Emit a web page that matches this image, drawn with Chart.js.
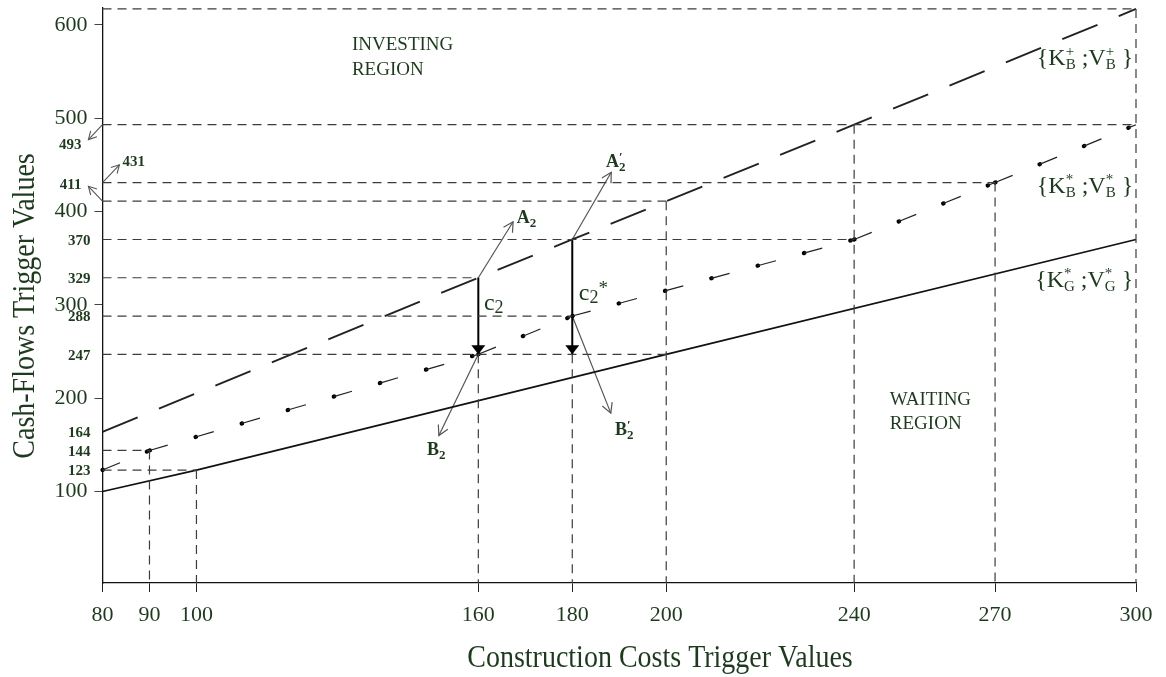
<!DOCTYPE html>
<html>
<head>
<meta charset="utf-8">
<script src="https://cdn.jsdelivr.net/npm/chart.js@4.4.1/dist/chart.umd.min.js"></script>
<style>
html,body{margin:0;padding:0;background:#fff;}
#wrap{width:1166px;height:677px;position:relative;}
</style>
</head>
<body>
<div id="wrap"><canvas id="c"></canvas></div>
<script>
// ---------- data ----------
const xTicks = [80, 90, 100, 160, 180, 200, 240, 270, 300];
const yTicks = [100, 200, 300, 400, 500, 600];
const yMarks = [123, 144, 164, 247, 288, 329, 370];   // bold values beside the axis
const yMarksArrowed = [493, 431, 411];                // bold values with a pointer

// {K_B+ ; V_B+}  (long dashes)
const kBplus = [80, 160, 180, 200, 240, 300];
const vBplus = [164, 329, 370, 411, 493, 617];
// {K_B* ; V_B*}  (dot-dash)
const kBstar = [80, 90, 160, 180, 240, 270, 300];
const vBstar = [123, 144, 247, 288, 370, 431, 493];
// {K_G* ; V_G*}  (solid)
const kGstar = [80, 100, 200, 300];
const vGstar = [100, 123, 247, 370];

// guide lines: horizontal [value, x where it stops], vertical [x, value where it starts]
const guideH = [[617, 300], [493, 300], [431, 270], [411, 200], [370, 240], [329, 160], [288, 180], [247, 200], [144, 90], [123, 100]];
const guideV = [[300, 617], [240, 493], [270, 431], [200, 411], [160, 247], [180, 247], [90, 144], [100, 123]];

// c2 and c2* drops
const dropC2 = [[160, 329], [160, 247]];
const dropC2s = [[180, 370], [180, 247]];

// pointer arrows
const ptrA2 = [[160, 329], [167.4, 389]];
const ptrA2p = [[180, 370], [188.3, 442]];
const ptrB2 = [[160, 247], [151.6, 160]];
const ptrB2p = [[180, 288], [188.2, 184]];
const ptr493 = [[80, 493], [77, 477]];
const ptr431 = [[80, 431], [83.6, 450]];
const ptr411 = [[80, 411], [77, 427]];

// ---------- styles ----------
const SERIF = "'Liberation Serif','Times New Roman',serif";
const GREEN = '#1e3a1e';
const YMIN = 2, YMAX = 618;

const pts = (xs, ys) => xs.map((x, i) => ({x, y: ys[i]}));
const pairs = arr => arr.map(p => ({x: p[0], y: p[1]}));

const datasets = [];
const base = {showLine: true, pointRadius: 0, pointHoverRadius: 0, fill: false, tension: 0, clip: false};

guideH.forEach(([v, xe]) => datasets.push(Object.assign({}, base, {
  data: [{x: 80, y: v}, {x: xe, y: v}], borderColor: '#3c3c3c', borderWidth: 1.2, borderDash: [9, 6]
})));
guideV.forEach(([x, v]) => datasets.push(Object.assign({}, base, {
  data: [{x: x, y: v}, {x: x, y: YMIN}], borderColor: '#3c3c3c', borderWidth: 1.2, borderDash: [9, 6]
})));

// solid line
datasets.push(Object.assign({}, base, {data: pts(kGstar, vGstar), borderColor: '#111', borderWidth: 1.7}));
// long dash line
datasets.push(Object.assign({}, base, {data: pts(kBplus, vBplus), borderColor: '#222', borderWidth: 1.9, borderDash: [38, 23]}));
// dot-dash line: thin dashes + round dots, pattern restarts at every vertex
const restart = {borderDashOffset: c => (c.p0DataIndex % 2) * 0.001};
datasets.push(Object.assign({}, base, {data: pts(kBstar, vBstar), borderColor: '#222', borderWidth: 1.2,
  borderDash: [19, 29], segment: restart}));
datasets.push(Object.assign({}, base, {data: pts(kBstar, vBstar), borderColor: '#000', borderWidth: 4.2,
  borderCapStyle: 'round', borderDash: [0.5, 47.5], segment: restart}));

// drops with filled heads
[dropC2, dropC2s].forEach(d => datasets.push(Object.assign({}, base, {
  data: pairs(d), borderColor: '#000', borderWidth: 2, head: 'filled'
})));
// pointers with open heads
[ptrA2, ptrA2p, ptrB2, ptrB2p].forEach(d => datasets.push(Object.assign({}, base, {
  data: pairs(d), borderColor: '#555', borderWidth: 1.2, head: 'open', headLen: 11
})));
[ptr493, ptr431, ptr411].forEach(d => datasets.push(Object.assign({}, base, {
  data: pairs(d), borderColor: '#555', borderWidth: 1.1, head: 'open', headLen: 9
})));

// ---------- text ----------
function fnt(k) { return (k.b ? 'bold ' : '') + k.s + 'px ' + SERIF; }
function richWidth(ctx, toks) {
  let w = 0;
  for (const k of toks) {
    ctx.font = fnt(k);
    w += k.stack ? Math.max(ctx.measureText(k.sup).width, ctx.measureText(k.sub).width) : ctx.measureText(k.t).width;
  }
  return w;
}
function drawRich(ctx, x, y, toks, align) {
  const w = richWidth(ctx, toks);
  let cx = align === 'right' ? x - w : align === 'center' ? x - w / 2 : x;
  ctx.textAlign = 'left';
  ctx.textBaseline = 'alphabetic';
  for (const k of toks) {
    ctx.font = fnt(k);
    if (k.stack) {
      ctx.fillText(k.sup, cx, y + k.supDy);
      ctx.fillText(k.sub, cx, y + k.subDy);
      cx += Math.max(ctx.measureText(k.sup).width, ctx.measureText(k.sub).width);
    } else {
      ctx.fillText(k.t, cx, y + (k.dy || 0));
      cx += ctx.measureText(k.t).width;
    }
  }
}
const kLabel = (sup, sub) => [
  {t: '{', s: 24}, {t: 'K', s: 24}, {stack: true, sup: sup, sub: sub, s: 15, supDy: -9, subDy: 4},
  {t: ' ;', s: 24}, {t: 'V', s: 24}, {stack: true, sup: sup, sub: sub, s: 15, supDy: -9, subDy: 4},
  {t: ' }', s: 24}
];
const labels = [
  {x: 133.1, y: 572.7, toks: [{t: 'INVESTING', s: 19}], align: 'left'},
  {x: 133.1, y: 546.5, toks: [{t: 'REGION', s: 19}], align: 'left'},
  {x: 247.6, y: 192.2, toks: [{t: 'WAITING', s: 19}], align: 'left'},
  {x: 247.6, y: 167.5, toks: [{t: 'REGION', s: 19}], align: 'left'},
  {x: 168.2, y: 388, toks: [{t: 'A', s: 18, b: true}, {t: '2', s: 13, b: true, dy: 4}], align: 'left'},
  {x: 187.2, y: 447.7, toks: [{t: 'A', s: 18, b: true}, {stack: true, sup: '\u2032', sub: '2', s: 13, b: true, supDy: -6, subDy: 4}], align: 'left'},
  {x: 149.1, y: 139.1, toks: [{t: 'B', s: 18, b: true}, {t: '2', s: 13, b: true, dy: 4}], align: 'left'},
  {x: 189.1, y: 160.6, toks: [{t: 'B', s: 18, b: true}, {stack: true, sup: '\u2032', sub: '2', s: 13, b: true, supDy: -6, subDy: 4}], align: 'left'},
  {x: 161.2, y: 294.5, toks: [{t: 'c', s: 24}, {t: '2', s: 18, dy: 3}], align: 'left'},
  {x: 181.4, y: 305.2, toks: [{t: 'c', s: 24}, {t: '2', s: 18, dy: 3}, {t: '*', s: 19, dy: -6}], align: 'left'},
  {x: 299.4, y: 557, toks: kLabel('+', 'B'), align: 'right'},
  {x: 299.4, y: 419.8, toks: kLabel('*', 'B'), align: 'right'},
  {x: 299.4, y: 319.4, toks: kLabel('*', 'G'), align: 'right'}
];

const drawPlugin = {
  id: 'extras',
  afterDatasetsDraw(chart) {
    const ctx = chart.ctx, xs = chart.scales.x, ys = chart.scales.y;
    ctx.save();
    // arrow heads
    chart.data.datasets.forEach((ds, i) => {
      if (!ds.head) return;
      const el = chart.getDatasetMeta(i).data;
      const p1 = el[el.length - 1], p0 = el[el.length - 2];
      const a = Math.atan2(p1.y - p0.y, p1.x - p0.x);
      if (ds.head === 'filled') {
        const L = 9, W = 7;
        ctx.fillStyle = '#000';
        ctx.beginPath();
        ctx.moveTo(p1.x, p1.y);
        ctx.lineTo(p1.x - L * Math.cos(a) + W * Math.sin(a), p1.y - L * Math.sin(a) - W * Math.cos(a));
        ctx.lineTo(p1.x - L * Math.cos(a) - W * Math.sin(a), p1.y - L * Math.sin(a) + W * Math.cos(a));
        ctx.closePath();
        ctx.fill();
      } else {
        const L = ds.headLen, s = 0.5;
        ctx.strokeStyle = ds.borderColor;
        ctx.lineWidth = ds.borderWidth;
        ctx.setLineDash([]);
        ctx.beginPath();
        ctx.moveTo(p1.x - L * Math.cos(a - s), p1.y - L * Math.sin(a - s));
        ctx.lineTo(p1.x, p1.y);
        ctx.lineTo(p1.x - L * Math.cos(a + s), p1.y - L * Math.sin(a + s));
        ctx.stroke();
      }
    });
    ctx.fillStyle = GREEN;
    // bold values beside the axis
    ctx.font = 'bold 15px ' + SERIF;
    ctx.textAlign = 'right';
    ctx.textBaseline = 'middle';
    yMarks.forEach(v => ctx.fillText(String(v), chart.chartArea.left - 12, ys.getPixelForValue(v) + 1.5));
    // pointer labels
    const tip = d => ({x: xs.getPixelForValue(d[1][0]), y: ys.getPixelForValue(d[1][1])});
    let t = tip(ptr493); ctx.textAlign = 'right'; ctx.fillText(String(yMarksArrowed[0]), t.x - 7, t.y + 6);
    t = tip(ptr411); ctx.fillText(String(yMarksArrowed[2]), t.x - 7, t.y - 1);
    t = tip(ptr431); ctx.textAlign = 'left'; ctx.fillText(String(yMarksArrowed[1]), t.x + 3, t.y - 3);
    // annotations
    labels.forEach(l => drawRich(ctx, xs.getPixelForValue(l.x), ys.getPixelForValue(l.y), l.toks, l.align));
    // axis titles
    ctx.font = '28px ' + SERIF;
    ctx.textAlign = 'center';
    ctx.textBaseline = 'alphabetic';
    ctx.save();
    ctx.translate(660, 667);
    ctx.scale(1, 1.15);
    ctx.fillText('Construction Costs Trigger Values', 0, 0);
    ctx.restore();
    ctx.save();
    ctx.translate(34, 306);
    ctx.rotate(-Math.PI / 2);
    ctx.scale(1, 1.15);
    ctx.fillText('Cash-Flows Trigger Values', 0, 0);
    ctx.restore();
    ctx.restore();
  }
};

new Chart(document.getElementById('c'), {
  type: 'scatter',
  data: {datasets},
  options: {
    responsive: true,
    maintainAspectRatio: false,
    animation: false,
    events: [],
    layout: {padding: {top: 8, right: 30, left: 0, bottom: 0}},
    plugins: {legend: {display: false}, tooltip: {enabled: false}, title: {display: false}},
    scales: {
      x: {
        type: 'linear', min: 80, max: 300,
        afterBuildTicks: s => { s.ticks = xTicks.map(v => ({value: v})); },
        afterFit: s => { s.height = 94; s.paddingLeft = 0; s.paddingRight = 0; },
        ticks: {autoSkip: false, maxRotation: 0, padding: 10, color: GREEN, font: {family: SERIF, size: 22},
          callback: v => String(v)},
        grid: {drawOnChartArea: false, drawTicks: true, tickLength: 9, color: '#222'},
        border: {display: true, color: '#111', width: 1.3}
      },
      y: {
        type: 'linear', min: YMIN, max: YMAX,
        afterBuildTicks: s => { s.ticks = yTicks.map(v => ({value: v})); },
        afterFit: s => { s.width = 102.5; s.paddingTop = 0; s.paddingBottom = 0; },
        ticks: {autoSkip: false, padding: 7, color: GREEN, font: {family: SERIF, size: 22},
          callback: v => String(v)},
        grid: {drawOnChartArea: false, drawTicks: true, tickLength: 8, color: '#444'},
        border: {display: true, color: '#111', width: 1.3}
      }
    }
  },
  plugins: [drawPlugin]
});
</script>
</body>
</html>
